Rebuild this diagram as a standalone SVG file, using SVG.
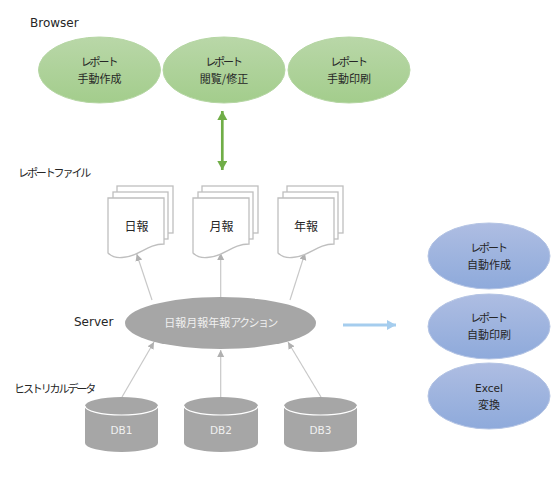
<svg xmlns="http://www.w3.org/2000/svg" width="560" height="481" viewBox="0 0 560 481">
<style>
text{font-family:"Noto Sans CJK JP","Noto Sans",sans-serif;font-size:11px;fill:#262626}
.c{text-anchor:middle}
.k{letter-spacing:-2.1px}
.s{letter-spacing:-1.6px}
.e{font-family:"DejaVu Sans",sans-serif;font-size:12px}
.e2{font-family:"DejaVu Sans",sans-serif;font-size:10.5px}
.w{fill:#f0f0f0}
.d{font-size:12px}
.g{fill:url(#gg);stroke:#b5d6a3;stroke-width:1}
.b{fill:url(#bb);stroke:#b4c4e4;stroke-width:1}
.p{fill:#fff;stroke:#bfbfbf;stroke-width:1.3}
.db{fill:#a6a6a6}
.dl{fill:none;stroke:#fff;stroke-width:1.2}
.l{fill:none;stroke:#c8c8c8;stroke-width:1.2;marker-end:url(#ga)}
</style>
<defs>
<linearGradient id="gg" x1="0" y1="0" x2="0" y2="1"><stop offset="0" stop-color="#b9d7a8"/><stop offset="1" stop-color="#a3cd8c"/></linearGradient>
<linearGradient id="bb" x1="0" y1="0" x2="0" y2="1"><stop offset="0" stop-color="#aebde2"/><stop offset="1" stop-color="#8eaadb"/></linearGradient>
<marker id="ga" markerUnits="userSpaceOnUse" markerWidth="8" markerHeight="8" refX="7" refY="3.500" orient="auto"><path d="M0 0L7 3.500L0 7Z" fill="#b0b0b0"/></marker>
<marker id="gr" markerUnits="userSpaceOnUse" markerWidth="10" markerHeight="11" refX="9" refY="5" orient="auto-start-reverse"><path d="M0 0L9 5L0 10Z" fill="#70ad47"/></marker>
<marker id="bl" markerUnits="userSpaceOnUse" markerWidth="10" markerHeight="11" refX="9" refY="5" orient="auto"><path d="M0 0L9 5L0 10Z" fill="#a5cdee"/></marker>
<path id="doc" d="M0 0H56V46C38 46 32 59 14 59.500C8 60 3 58 0 55Z"/>
</defs>
<text class="e" x="30" y="27">Browser</text>
<text class="k" x="18" y="177">レポートファイル</text>
<text class="e" x="74" y="326">Server</text>
<text class="k" x="14" y="393">ヒストリカルデータ</text>
<g id="connectors">
<path d="M222.300 111V170" stroke="#70ad47" stroke-width="2.700" fill="none" marker-start="url(#gr)" marker-end="url(#gr)"/>
<path class="l" d="M152 300L136.700 254"/>
<path class="l" d="M220.700 297V253"/>
<path class="l" d="M290 300L305 253"/>
<path class="l" d="M122 397L154 342"/>
<path class="l" d="M220.700 397V350"/>
<path class="l" d="M321 397L288 342"/>
<path d="M343 325H396" stroke="#a5cdee" stroke-width="3" fill="none" marker-end="url(#bl)"/>
</g>
<g id="n1"><ellipse class="g" cx="99.500" cy="70" rx="61" ry="33"/><text class="c k" x="98.500" y="66">レポート</text><text class="c" x="99.500" y="83">手動作成</text></g>
<g id="n2"><ellipse class="g" cx="224" cy="70" rx="61" ry="33"/><text class="c k" x="223" y="66">レポート</text><text class="c" x="224" y="83">閲覧/修正</text></g>
<g id="n3"><ellipse class="g" cx="349" cy="70" rx="61" ry="33"/><text class="c k" x="348" y="66">レポート</text><text class="c" x="349" y="83">手動印刷</text></g>
<g id="d1"><rect class="p" x="117" y="186" width="56" height="47"/><rect class="p" x="113" y="192" width="55" height="47"/><use href="#doc" class="p" x="108" y="198"/><text class="c d" x="136.500" y="231">日報</text></g>
<g id="d2"><rect class="p" x="202" y="186" width="56" height="47"/><rect class="p" x="198" y="192" width="55" height="47"/><use href="#doc" class="p" x="193" y="198"/><text class="c d" x="221.500" y="231">月報</text></g>
<g id="d3"><rect class="p" x="287" y="186" width="56" height="47"/><rect class="p" x="283" y="192" width="55" height="47"/><use href="#doc" class="p" x="278" y="198"/><text class="c d" x="306" y="231">年報</text></g>
<g id="server"><ellipse cx="220.500" cy="323" rx="95.500" ry="26" fill="#a6a6a6"/><text class="c w" x="220.500" y="327">日報月報年報<tspan class="s">アクション</tspan></text></g>
<g id="db1"><path class="db" d="M85 406A36.500 9 0 0 1 158 406V443A36.500 9 0 0 1 85 443Z"/><path class="dl" d="M85 406A36.500 9 0 0 0 158 406"/><text class="c w e2" x="121.500" y="434">DB1</text></g>
<g id="db2"><path class="db" d="M184 406A37 9 0 0 1 258 406V443A37 9 0 0 1 184 443Z"/><path class="dl" d="M184 406A37 9 0 0 0 258 406"/><text class="c w e2" x="221" y="434">DB2</text></g>
<g id="db3"><path class="db" d="M284 406A36.500 9 0 0 1 357 406V443A36.500 9 0 0 1 284 443Z"/><path class="dl" d="M284 406A36.500 9 0 0 0 357 406"/><text class="c w e2" x="320.500" y="434">DB3</text></g>
<g id="r1"><ellipse class="b" cx="489" cy="256" rx="61" ry="33"/><text class="c k" x="488" y="252">レポート</text><text class="c" x="489" y="269">自動作成</text></g>
<g id="r2"><ellipse class="b" cx="489" cy="326.500" rx="61" ry="32.500"/><text class="c k" x="488" y="322">レポート</text><text class="c" x="489" y="339">自動印刷</text></g>
<g id="r3"><ellipse class="b" cx="489" cy="396" rx="61" ry="33"/><text class="c e2" x="489" y="392">Excel</text><text class="c" x="489" y="409">変換</text></g>
</svg>
